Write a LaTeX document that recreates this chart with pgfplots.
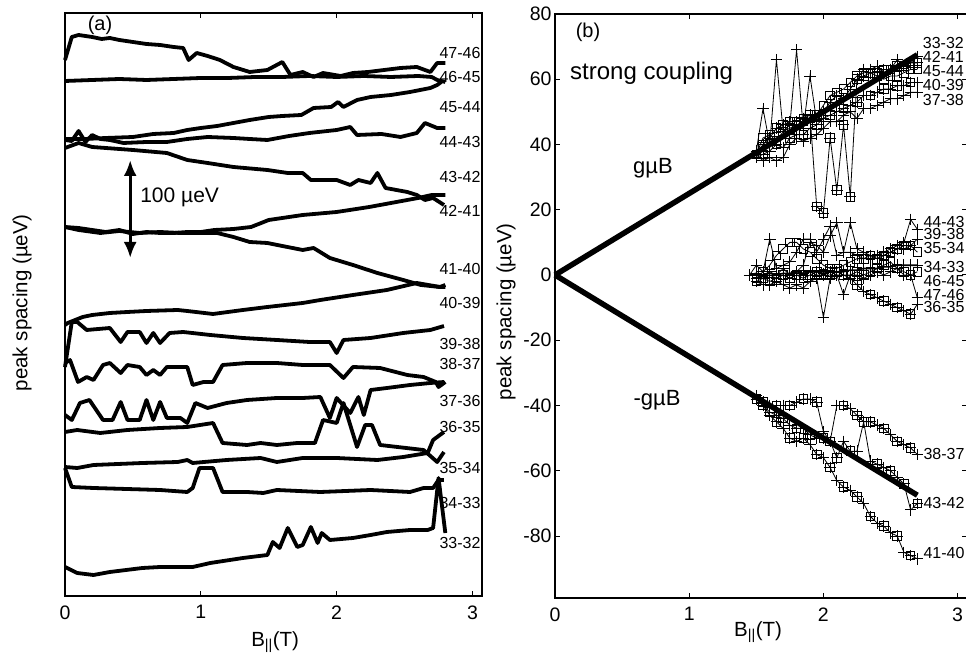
\documentclass[border=0pt]{standalone}
\usepackage{fontspec}
\setmainfont{Liberation Sans}
\usepackage{pgfplots}
\usepackage{pgfplotstable}
\pgfplotsset{compat=1.18}
\usetikzlibrary{arrows.meta}

% right panel: peak spacing (ueV) vs B (T)
\pgfplotstableread{
x    a3332 a4241 a4544 a4039 a3738 z4443 z3938 z3534 z3433 z4645 z4746 z3635 l3837 l4342 l4140
1.45 nan   nan   nan   nan   nan   0     nan   nan   0     nan   nan   nan   nan   nan   nan
1.50 38    37    37    36    37    3     -1    -1    0.5   -2    -2    0     -37   -38   -38
1.55 51    40    42    37    35    1     0     1     0     -1    -3    -1    -39   -40   -40
1.60 40    42    43    38    36    11    1     3     0.5   -2    -3    0     -40   -42   -43
1.65 66    45    41    40    35    2     0     6     0     -1    -2    -1    -40   -43   -45
1.70 44    46    44    39    36    3     2     8     0.5   0     -3    0     -40   -44   -47
1.75 46    47    45    42    40    4     0     10    0.5   -1    -4    -1    -40   -46   -50
1.80 69    47    46    43    42    7     1     10    1     0     -3    0     -39   -47   -51
1.85 45    48    47    43    41    11    3     8     0.5   -1    -4    0     -38   -47   -50
1.90 61    49    48    45    42    11    10    7     1     0     -2    1     -38   -49   -52
1.95 47    21    49    46    43    7     9     5     1     1     -1    0     -39   -50   -55
2.00 50    19    52    48    45    11    7     3     0.5   0     -13   0     -48   -50   -56
2.05 53    42    55    49    47    15    12    2     1     0     -1    1     -51   -51   -59
2.10 55    26    56    50    47    6     16    2     1     1     0     0     -40   -56   -63
2.15 54    46    57    51    49    7     7     3     1     0     -6    0     -40   -51   -65
2.20 57    24    59    52    50    7     16    4     1.5   0     0     -1    -41   -54   -66
2.25 60    60    61    53    48    6     8     5     1.5   1     0     -3    -43   -54   -68
2.30 63    61    62    55    51    5     7     5     2     0     -1    -5    -45   -45   -70
2.35 63    62    62    55    51    5     6     6     2     1     0     -6    -45   -57   -74
2.40 64    62    61    56    52    6     5     5     2     2     1     -7    -46   -58   -76
2.45 62    63    60    57    53    7     6     6     2.5   3     0     -8    -47   -59   -77
2.50 63    63    61    57    54    8     7     7     2.5   4     1     -9    -49   -60   -79
2.55 66    64    61    58    54    9     8     8     3     2     2     -10   -51   -62   -80
2.60 64    64    62    58    55    10    8     9     3     1     0     -11   -52   -64   -85
2.65 65    65    63    59    56    17    9     9     3     0     0     -12   -53   -72   -86
2.70 67    65    63    59    56    14    11    7     3     1     -7    -9    -55   -70   -87
}\rightdata

\tikzset{lab/.style={anchor=west, font=\fontsize{16}{16}\selectfont, inner sep=0pt},
         labr/.style={anchor=west, font=\fontsize{16}{16}\selectfont, inner sep=0pt}}

\begin{document}
\begin{tikzpicture}
\useasboundingbox (0pt,0pt) rectangle (966pt,660pt);
\pgfplotsset{
  panel/.style={
    scale only axis, clip=false,
    axis line style={line width=1.2pt},
    tick align=inside, major tick length=5pt,
    every tick/.style={black, line width=1pt},
    xmin=0, xmax=3.07, xtick={0,1,2,3},
    xtick pos=both, ytick pos=both,
    tick label style={font=\fontsize{19.5}{21}\selectfont},
    /pgf/number format/assume math mode=true,
    label style={font=\fontsize{20.5}{22}\selectfont},
    xticklabel style={yshift=-6pt},
  },
  thk/.style={black, line width=3.8pt, line join=round, no marks},
  ser/.style={black, line width=0.8pt, mark=+, mark size=5.8pt, mark options={line width=0.9pt, solid}},
  sqr/.style={black, only marks, mark=square, mark size=4.3pt, mark options={line width=0.9pt}, mark repeat=2, mark phase=2},
}

% ---------------- panel (a) ----------------
\begin{axis}[panel, at={(65pt,64pt)}, anchor=south west, width=417pt, height=583pt,
  ymin=0, ymax=583, ytick=\empty,
  xlabel={B\textsubscript{||}(T)},
  xlabel style={at={(axis description cs:0.504,-0.079)}, anchor=center},
  ylabel={peak spacing (µeV)},
  ylabel style={at={(axis description cs:-0.103,0.503)}, anchor=center, rotate=0},
]
% 47-46
\addplot[thk] coordinates {(0,536) (0.05,559) (0.1,561) (0.2,559) (0.27,557) (0.33,558) (0.4,556) (0.5,554) (0.6,552) (0.7,551) (0.8,549) (0.87,548) (0.91,536) (0.97,543) (1.05,540) (1.14,536) (1.24,529) (1.36,524) (1.49,526) (1.6,534) (1.66,521) (1.75,524) (1.83,519) (1.9,523) (2.03,520) (2.12,523) (2.23,524) (2.35,526) (2.47,528) (2.59,529) (2.69,524) (2.74,533) (2.8,533)};
% 46-45
\addplot[thk] coordinates {(0,515) (0.2,516) (0.4,517) (0.6,516) (0.8,517) (1.0,518) (1.2,518) (1.4,519) (1.6,519) (1.8,520) (2.0,519) (2.2,520) (2.4,519) (2.6,520) (2.7,519) (2.74,516) (2.8,514)};
% 45-44
\addplot[thk] coordinates {(0,457) (0.15,457) (0.3,458) (0.5,459) (0.65,462) (0.8,463) (0.9,466) (1.0,468) (1.12,470) (1.24,473) (1.36,476) (1.5,479) (1.6,480) (1.74,481) (1.83,488) (1.96,489) (2.01,494) (2.05,489) (2.15,496) (2.25,499) (2.4,501) (2.54,504) (2.69,508) (2.74,511) (2.77,514)};
% 44-43
\addplot[thk] coordinates {(0,456) (0.05,455) (0.1,465) (0.15,454) (0.2,461) (0.26,457) (0.33,456) (0.43,453) (0.6,454) (0.75,454) (0.9,457) (1.05,459) (1.24,458) (1.36,457) (1.49,456) (1.65,460) (1.8,463) (2.0,466) (2.1,469) (2.15,461) (2.33,462) (2.47,459) (2.59,463) (2.65,473) (2.74,468) (2.8,468)};
% 43-42
\addplot[thk] coordinates {(0,448) (0.1,453) (0.2,449) (0.5,446) (0.75,443) (0.9,436) (1.05,433) (1.24,429) (1.49,426) (1.64,423) (1.75,423) (1.81,416) (2.0,416) (2.1,411) (2.16,416) (2.25,413) (2.3,423) (2.36,408) (2.52,404) (2.59,401) (2.65,396) (2.71,398) (2.79,391)};
% 42-41
\addplot[thk] coordinates {(0,369) (0.1,368) (0.2,366) (0.3,364) (0.4,366) (0.5,362) (0.6,364) (0.7,363) (0.8,363) (0.9,364) (1.0,364) (1.1,366) (1.24,367) (1.37,369) (1.5,376) (1.75,381) (2.0,384) (2.24,389) (2.4,393) (2.6,398) (2.7,401) (2.8,401)};
% 41-40
\addplot[thk] coordinates {(0,369) (0.1,366) (0.26,363) (0.4,365) (0.55,363) (0.7,364) (0.85,363) (1.0,363) (1.12,363) (1.24,359) (1.36,354) (1.49,353) (1.6,350) (1.75,346) (1.83,348) (1.95,338) (2.12,331) (2.3,323) (2.49,316) (2.62,311) (2.76,309) (2.8,311)};
% 40-39
\addplot[thk] coordinates {(0,271) (0.02,273) (0.13,279) (0.2,281) (0.33,283) (0.46,284) (0.6,285) (0.83,286) (0.9,285) (1.09,282) (1.2,284) (1.31,286) (1.49,289) (1.75,293) (1.88,296) (2.12,301) (2.37,306) (2.59,313) (2.76,309) (2.8,309)};
% 39-38
\addplot[thk] coordinates {(0,229) (0.05,274) (0.09,274) (0.16,266) (0.33,268) (0.41,254) (0.46,264) (0.55,264) (0.6,253) (0.65,263) (0.7,253) (0.77,263) (0.87,264) (1.07,261) (1.31,258) (1.56,256) (1.8,254) (1.95,254) (2.0,243) (2.05,256) (2.25,258) (2.49,263) (2.69,266) (2.79,270)};
% 38-37
\addplot[thk] coordinates {(0,233) (0.037,236) (0.096,214) (0.16,219) (0.21,216) (0.28,231) (0.33,233) (0.41,223) (0.46,231) (0.55,229) (0.6,221) (0.65,226) (0.7,221) (0.75,229) (0.9,229) (0.94,211) (1.02,214) (1.09,214) (1.16,231) (1.34,233) (1.56,233) (1.75,231) (1.95,231) (2.05,218) (2.12,229) (2.32,228) (2.52,221) (2.64,219) (2.73,214) (2.75,209) (2.8,214)};
% 37-36
\addplot[thk] coordinates {(0,181) (0.05,176) (0.11,193) (0.18,196) (0.28,176) (0.35,176) (0.41,194) (0.46,176) (0.55,176) (0.6,196) (0.65,176) (0.7,194) (0.75,178) (0.85,178) (0.9,173) (0.96,193) (1.05,188) (1.19,193) (1.34,196) (1.56,198) (1.75,198) (1.88,199) (1.95,178) (2.0,198) (2.1,183) (2.16,199) (2.2,181) (2.25,206) (2.37,208) (2.54,211) (2.69,213) (2.79,214)};
% 36-35
\addplot[thk] coordinates {(0,164) (0.09,166) (0.26,163) (0.46,166) (0.7,168) (0.9,169) (1.09,173) (1.16,153) (1.34,151) (1.44,153) (1.56,151) (1.71,153) (1.84,153) (1.9,176) (2.0,173) (2.05,193) (2.15,149) (2.21,171) (2.26,171) (2.32,151) (2.64,146) (2.74,134) (2.79,144)};
% 35-34
\addplot[thk] coordinates {(0,129) (0.09,128) (0.21,131) (0.57,133) (0.83,134) (0.9,136) (0.94,133) (1.19,136) (1.44,138) (1.56,134) (1.75,138) (2.0,138) (2.3,136) (2.49,139) (2.67,143) (2.71,156) (2.79,164)};
% 34-33
\addplot[thk] coordinates {(0,128) (0.05,109) (0.21,108) (0.7,106) (0.9,104) (0.94,108) (0.99,128) (1.09,128) (1.16,104) (1.34,104) (1.46,103) (1.56,106) (1.88,104) (2.25,106) (2.54,104) (2.64,108) (2.71,108) (2.75,116) (2.79,116)};
% 33-32
\addplot[thk] coordinates {(0,29) (0.09,23) (0.21,21) (0.33,24) (0.57,28) (0.7,29) (0.94,29) (1.07,33) (1.31,38) (1.49,41) (1.53,54) (1.58,48) (1.64,68) (1.71,49) (1.75,51) (1.81,69) (1.86,53) (1.89,63) (1.95,56) (2.12,58) (2.25,61) (2.37,64) (2.54,66) (2.67,66) (2.71,68) (2.75,118) (2.8,63)};

\foreach \lbl/\yy in {47-46/543, 46-45/519, 45-44/489, 44-43/454, 43-42/419, 42-41/385, 41-40/327, 40-39/293, 39-38/252, 38-37/232, 37-36/195, 36-35/169, 35-34/128, 34-33/93, 33-32/53}
  {\edef\tmp{\noexpand\node[lab] at (axis cs:2.756,\yy) {\lbl};}\tmp}

\node[font=\fontsize{20}{22}\selectfont] at (axis cs:0.258,571) {(a)};
\draw[line width=3pt, {Latex[length=16pt,width=13pt]}-{Latex[length=16pt,width=13pt]}] (axis cs:0.48,436) -- (axis cs:0.48,338);
\node[anchor=west, inner sep=0pt, font=\fontsize{21}{22}\selectfont] at (axis cs:0.553,399) {100 µeV};
\end{axis}

% ---------------- panel (b) ----------------
\begin{axis}[panel, at={(555pt,62pt)}, anchor=south west, width=412pt, height=584pt,
  ymin=-99, ymax=80, ytick={-80,-60,-40,-20,0,20,40,60,80},
  xlabel={B\textsubscript{||}(T)},
  xlabel style={at={(axis description cs:0.493,-0.058)}, anchor=center},
  ylabel={peak spacing (µeV)},
  ylabel style={at={(axis description cs:-0.119,0.49)}, anchor=center},
]
% upper branch
\addplot[ser] table[x=x, y=a3332] {\rightdata};
\addplot[ser] table[x=x, y=a4241] {\rightdata};
\addplot[sqr, mark repeat=1] table[x=x, y=a4241] {\rightdata};
\addplot[ser, mark=square, mark size=4.3pt] table[x=x, y=a4544] {\rightdata};
\addplot[ser] table[x=x, y=a4039] {\rightdata};
\addplot[sqr] table[x=x, y=a4039] {\rightdata};
\addplot[ser] table[x=x, y=a3738] {\rightdata};
% zero branch
\addplot[ser] table[x=x, y=z4443] {\rightdata};
\addplot[ser] table[x=x, y=z3938] {\rightdata};
\addplot[ser, mark=square, mark size=4.3pt] table[x=x, y=z3534] {\rightdata};
\addplot[ser, line width=1.6pt] table[x=x, y=z3433] {\rightdata};
\addplot[ser, mark=square, mark size=4.3pt] table[x=x, y=z4645] {\rightdata};
\addplot[ser] table[x=x, y=z4746] {\rightdata};
\addplot[ser] table[x=x, y=z3635] {\rightdata};
\addplot[sqr] table[x=x, y=z3635] {\rightdata};
% lower branch
\addplot[ser] table[x=x, y=l3837] {\rightdata};
\addplot[sqr] table[x=x, y=l3837] {\rightdata};
\addplot[ser] table[x=x, y=l4342] {\rightdata};
\addplot[sqr, mark phase=1] table[x=x, y=l4342] {\rightdata};
\addplot[ser] table[x=x, y=l4140] {\rightdata};
\addplot[sqr] table[x=x, y=l4140] {\rightdata};
% g mu B lines
\addplot[black, line width=5.5pt, no marks] coordinates {(0,0) (2.7,67.5)};
\addplot[black, line width=5.5pt, no marks] coordinates {(0,0) (2.7,-67.5)};

\foreach \lbl/\yy in {33-32/71.1, 42-41/66.8, 45-44/62.5, 40-39/58.2, 37-38/53.6}
  {\edef\tmp{\noexpand\node[labr] at (axis cs:2.74,\yy) {\lbl};}\tmp}
\foreach \lbl/\yy in {44-43/16.2, 39-38/12.6, 35-34/8.3, 34-33/2.4, 46-45/-1.8, 47-46/-6.1, 36-35/-9.9, 38-37/-54.9, 43-42/-69.9, 41-40/-85.2}
  {\edef\tmp{\noexpand\node[labr] at (axis cs:2.745,\yy) {\lbl};}\tmp}

\node[font=\fontsize{20}{22}\selectfont] at (axis cs:0.246,74.5) {(b)};
\node[anchor=west, inner sep=0pt, font=\fontsize{24}{26}\selectfont] at (axis cs:0.112,61.9) {strong coupling};
\node[font=\fontsize{22}{24}\selectfont] at (axis cs:0.73,32.8) {gµB};
\node[font=\fontsize{22}{24}\selectfont] at (axis cs:0.76,-38.3) {-gµB};
\end{axis}
\end{tikzpicture}
\end{document}
